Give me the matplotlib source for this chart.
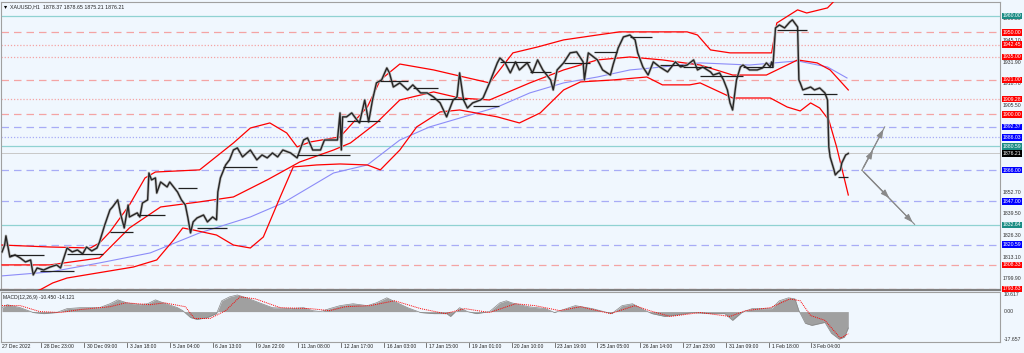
import matplotlib
matplotlib.use("Agg")
import matplotlib.pyplot as plt

plt.rcParams["font.family"] = ["Liberation Sans", "DejaVu Sans"]

# ---- colours
BG = "#F0F7FE"
RED = "#FF0000"
BLUE = "#0000FF"
TEAL = "#1A8C84"
GRID_RED = "#F4A4A4"
GRID_BLUE = "#A8ACF6"
GRID_TEAL = "#90D2D2"
MA_BLUE = "#8C8CF8"

# ---- price path (bar index, price)
price_bar = [0, 2, 3, 6, 10, 14, 18, 22, 24, 27, 32, 37, 42, 45, 50, 54, 58, 62, 65, 69,
             73, 75, 79, 83, 85, 89, 91, 94, 97, 98, 104, 106, 108, 112, 113, 115, 118, 119,
             122, 127, 129, 132, 135, 138, 141, 143, 145, 147, 150, 155, 158, 162, 165, 166,
             168, 172, 175, 178, 181, 185, 191, 196, 200, 204, 208, 212, 216, 222, 227, 232,
             235, 239, 245, 248, 255, 258, 260, 261, 262, 265, 269, 273, 275, 279, 282, 285,
             288, 292, 296, 298, 301, 306, 312, 316, 322, 327, 332, 337, 342, 347, 350, 352,
             355, 358, 362, 368, 370, 375, 381, 383, 387, 391, 395, 398, 404, 408, 412, 416,
             419, 422, 424, 427, 432, 437, 442, 447, 448, 451, 458, 462, 468, 470, 474, 478,
             483, 487, 489, 493, 497, 501, 506, 512, 518, 522, 527, 532, 535, 539, 545, 547,
             552, 555, 558, 560, 562, 563, 565, 568, 570, 575, 581, 585, 588, 591, 592, 593,
             595, 598, 602, 606, 608, 612, 613, 614, 616, 622, 625, 629, 633, 635, 636, 637,
             640, 641, 643, 645, 646, 649, 651]
price_val = [1816.2, 1820.4, 1826.0, 1813.1, 1814.4, 1812.5, 1810.1, 1811.3, 1802.2, 1806.4,
             1805.2, 1807.0, 1808.3, 1806.4, 1818.6, 1816.2, 1817.4, 1815.0, 1819.2, 1816.8,
             1818.6, 1822.3, 1832.6, 1841.8, 1843.6, 1847.9, 1840.0, 1830.8, 1844.8, 1837.5,
             1840.0, 1837.5, 1846.0, 1847.9, 1864.3, 1860.1, 1861.3, 1852.1, 1858.8, 1855.8,
             1858.8, 1855.8, 1852.7, 1847.9, 1844.8, 1836.9, 1827.8, 1834.5, 1836.9, 1838.7,
             1834.5, 1837.5, 1835.7, 1852.7, 1861.3, 1869.2, 1872.3, 1878.3, 1879.6, 1874.1,
             1878.3, 1872.3, 1875.3, 1873.5, 1876.5, 1874.1, 1878.3, 1876.5, 1873.5, 1884.4,
             1885.7, 1878.3, 1878.3, 1884.4, 1884.4, 1884.4, 1900.9, 1878.3, 1898.5, 1898.5,
             1900.9, 1896.6, 1894.8, 1908.8, 1895.4, 1908.8, 1919.2, 1921.0, 1928.3, 1925.3,
             1916.7, 1919.2, 1914.9, 1918.0, 1913.1, 1913.1, 1910.6, 1907.0, 1898.5, 1908.8,
             1910.6, 1925.3, 1908.8, 1903.9, 1907.0, 1908.8, 1910.0, 1919.2, 1931.4, 1934.4,
             1931.4, 1925.3, 1932.0, 1927.1, 1931.4, 1925.3, 1933.2, 1927.1, 1924.0, 1921.0,
             1914.9, 1927.1, 1931.4, 1937.5, 1938.1, 1932.0, 1921.0, 1937.5, 1933.2, 1927.1,
             1924.0, 1930.1, 1940.5, 1947.2, 1948.4, 1945.4, 1937.5, 1928.9, 1924.0, 1932.0,
             1928.9, 1925.9, 1932.0, 1928.9, 1930.1, 1933.2, 1927.1, 1928.9, 1925.9, 1924.0,
             1925.3, 1921.0, 1914.9, 1907.0, 1902.7, 1908.8, 1921.0, 1928.9, 1930.1, 1927.1,
             1927.1, 1928.3, 1931.4, 1928.9, 1932.0, 1928.9, 1952.7, 1954.5, 1952.7, 1956.3,
             1957.6, 1953.3, 1921.0, 1919.2, 1914.9, 1916.7, 1914.9, 1916.1, 1913.1, 1908.8,
             1880.2, 1874.1, 1866.2, 1863.1, 1864.9, 1866.2, 1870.4, 1875.3, 1876.2]

# ---- Bollinger bands and moving average
bb_up_bar = [0, 37, 68, 75, 83, 98, 110, 118, 152, 178, 191, 206, 219, 227, 237, 260, 281,
             291, 306, 332, 352, 375, 393, 412, 432, 458, 475, 527, 535, 545, 560, 592, 596,
             612, 619, 635, 641, 651]
bb_up_val = [1820.4, 1819.2, 1818.6, 1821.7, 1828.4, 1844.8, 1861.3, 1864.9, 1866.2, 1882.6,
             1891.7, 1894.8, 1888.7, 1880.2, 1883.2, 1886.3, 1904.5, 1921.0, 1930.7, 1927.1,
             1923.4, 1919.2, 1937.5, 1941.1, 1945.4, 1948.4, 1950.3, 1950.3, 1948.4, 1939.3,
             1937.5, 1937.5, 1955.7, 1963.7, 1961.8, 1964.9, 1969.8, 1978.9]
bb_mid_bar = [0, 37, 75, 98, 122, 152, 178, 204, 229, 255, 268, 288, 306, 332, 352, 375, 406,
              432, 458, 483, 508, 537, 562, 588, 612, 627, 637, 651]
bb_mid_val = [1808.3, 1808.3, 1812.5, 1830.8, 1843.6, 1846.7, 1849.7, 1860.1, 1871.0, 1878.3,
              1882.6, 1894.8, 1908.8, 1913.7, 1910.0, 1908.8, 1919.2, 1927.1, 1933.2, 1935.0,
              1933.2, 1930.1, 1924.0, 1924.0, 1933.2, 1931.4, 1927.1, 1914.9]
bb_low_bar = [0, 29, 39, 50, 101, 119, 132, 139, 147, 165, 178, 191, 201, 214, 224, 242, 260,
              281, 291, 306, 319, 337, 352, 381, 398, 414, 432, 445, 470, 496, 508, 529, 537,
              562, 591, 604, 614, 622, 629, 636, 642, 651]
bb_low_val = [1786.9, 1793.0, 1797.3, 1800.3, 1807.0, 1811.3, 1823.5, 1830.8, 1829.6, 1826.5,
              1820.4, 1818.6, 1825.3, 1849.7, 1868.0, 1869.2, 1869.8, 1869.2, 1866.2, 1878.3,
              1892.4, 1901.5, 1902.7, 1898.5, 1894.8, 1900.9, 1914.9, 1919.8, 1921.0, 1922.8,
              1918.0, 1918.0, 1919.2, 1910.0, 1910.0, 1904.5, 1902.1, 1907.0, 1903.9, 1896.6,
              1880.2, 1850.9]
ma_bar = [0, 37, 75, 114, 152, 191, 216, 255, 281, 306, 329, 381, 406, 432, 458, 483, 508,
          537, 575, 612, 635, 650]
ma_val = [1801.6, 1804.0, 1809.5, 1815.6, 1827.8, 1837.5, 1846.0, 1864.3, 1869.2, 1884.4,
          1892.4, 1904.5, 1913.1, 1919.2, 1922.8, 1927.1, 1928.9, 1931.4, 1930.1, 1932.6,
          1928.9, 1922.2]

# ---- short black horizontal segments (start bar, end bar, price)
seg_start = [6, 29, 50, 83, 104, 135, 150, 170, 227, 265, 291, 316, 329, 362, 383, 406, 432,
             455, 483, 506, 524, 537, 570, 596, 616, 643]
seg_end = [32, 55, 78, 101, 125, 150, 173, 196, 268, 291, 312, 335, 358, 382, 406, 422, 452,
           473, 500, 524, 545, 570, 593, 619, 642, 651]
seg_price = [1814.4, 1804.6, 1815.0, 1828.4, 1838.7, 1855.2, 1830.8, 1868.0, 1875.3, 1896.0,
             1920.4, 1916.1, 1909.4, 1905.2, 1932.0, 1925.9, 1931.4, 1938.1, 1947.2, 1930.1,
             1928.9, 1923.4, 1928.9, 1951.5, 1912.5, 1861.9]

# ---- horizontal levels
levels = [1960.00, 1950.00, 1942.45, 1935.00, 1921.00, 1909.28, 1900.00, 1892.37, 1886.03,
          1880.59, 1866.00, 1847.00, 1832.64, 1820.59, 1808.33, 1793.63]
level_kind = ["teal", "red-", "red:", "red:", "red-", "red:", "red-", "blue-", "blue:",
              "teal", "blue-", "blue-", "teal", "blue-", "red-", "red-"]
last_price = 1876.21
scale_ticks = [1958.30, 1945.10, 1931.90, 1918.70, 1905.50, 1892.30, 1879.10, 1865.90,
               1852.70, 1839.50, 1826.30, 1813.10, 1799.90]

# ---- forecast arrows (bar, price)
arrow_from = [(661.5, 1866.0), (661.5, 1866.0)]
arrow_mid = [(671, 1879.6), (684, 1847.9)]
arrow_to = [(679, 1892.4), (702, 1833.0)]

# ---- MACD
hist_bar = [0, 4, 14, 24, 32, 42, 50, 60, 75, 83, 89, 96, 106, 112, 118, 124, 135, 139, 145,
            150, 158, 165, 169, 175, 181, 188, 198, 208, 222, 232, 239, 245, 252, 260, 270,
            281, 288, 296, 304, 312, 322, 332, 342, 345, 352, 358, 365, 375, 383, 388, 392,
            405, 418, 425, 441, 454, 469, 477, 485, 495, 500, 510, 521, 531, 546, 556, 562,
            569, 577, 592, 598, 605, 610, 613, 618, 623, 633, 638, 644, 648, 651]
hist_val = [2.5, 4.4, 2.5, -0.6, -1.3, -0.6, 1.9, 2.5, 2.5, 5.0, 7.5, 5.6, 4.4, 5.0, 7.5, 5.6,
            2.5, 0.6, -3.8, -5.0, -3.8, -1.3, 6.9, 9.4, 10.6, 8.8, 5.6, 2.5, 1.9, 2.5, 0.6, 0.0,
            1.9, 3.8, 5.0, 3.8, 5.6, 8.8, 5.6, 2.5, -0.6, -1.3, -1.3, -3.1, 2.5, 0.0, -1.3, 0.0,
            5.6, 6.9, 5.6, 3.1, 1.9, -0.6, 3.8, 1.9, -1.3, 3.8, 5.0, 0.6, -1.3, -3.1, -1.9,
            -0.6, -1.3, -1.3, -5.6, -0.6, 1.9, 1.9, 6.9, 8.8, 8.1, 0.6, -7.5, -8.8, -6.9,
            -13.8, -17.6, -16.3, -10.45]
sig_bar = [0, 14, 29, 45, 60, 83, 95, 114, 125, 141, 148, 160, 172, 183, 195, 214, 237, 252,
           264, 283, 302, 322, 341, 356, 375, 395, 410, 429, 445, 468, 487, 498, 514, 537,
           560, 572, 591, 606, 614, 622, 633, 645, 651]
sig_val = [3.8, 3.8, 0.0, -0.6, 1.3, 3.1, 5.6, 4.4, 5.6, 3.1, -4.4, -4.4, 0.6, 9.4, 8.1, 2.5,
           1.9, 0.6, 3.1, 3.8, 6.9, 1.9, -1.3, 1.9, -0.6, 5.0, 3.8, 0.6, 3.1, -1.3, 3.8, 0.6,
           -3.1, -0.6, -3.1, 0.6, 2.5, 8.1, 6.9, -2.5, -5.6, -17.0, -14.121]
macd_marks = [10.617, 0.00, -17.657]
macd_text = ["10.617", "0.00", "-17.657"]

# ---- time axis
xtick_bar = [0, 30, 63, 96, 129, 162, 195, 228, 261, 294, 326, 359, 392, 425, 458, 491, 524,
             557, 590, 622]
xtick_text = ["27 Dec 2022", "28 Dec 23:00", "30 Dec 09:00", "3 Jan 18:00", "5 Jan 04:00",
              "6 Jan 13:00", "9 Jan 22:00", "11 Jan 08:00", "12 Jan 17:00", "16 Jan 03:00",
              "17 Jan 15:00", "19 Jan 01:00", "20 Jan 10:00", "23 Jan 19:00", "25 Jan 05:00",
              "26 Jan 14:00", "27 Jan 23:00", "31 Jan 09:00", "1 Feb 18:00", "3 Feb 04:00"]

W, H = 1024, 353
FS = 3.7
fig = plt.figure(figsize=(W / 100, H / 100), dpi=100, facecolor=BG)
ax = fig.add_axes([1 / W, 1 - 290 / H, 999 / W, 288 / H], facecolor=BG)
axm = fig.add_axes([1 / W, 1 - 342 / H, 999 / W, 50 / H], facecolor=BG)

XLIM = (-0.8, 767.7)
for a in (ax, axm):
    a.set_xlim(*XLIM)
    a.set_xticks([])
    a.set_yticks([])
    for s in a.spines.values():
        s.set_color("#A0A0A0")
        s.set_linewidth(0.8)
ax.spines["bottom"].set_color("#808080")
ax.spines["bottom"].set_linewidth(1.6)
ax.set_ylim(1793.0, 1968.5)
axm.set_ylim(-19.4, 12.5)

# levels
styles = {
    "teal": (GRID_TEAL, "-", TEAL),
    "red-": (GRID_RED, (0, (6, 4)), RED),
    "red:": (GRID_RED, (0, (1, 1.5)), RED),
    "blue-": (GRID_BLUE, (0, (6, 4)), BLUE),
    "blue:": (GRID_BLUE, (0, (1, 1.5)), BLUE),
}
for lv, k in zip(levels, level_kind):
    c, ls, _ = styles[k]
    ax.axhline(lv, color=c, ls=ls, lw=0.9, zorder=1)
ax.axhline(last_price, color="#C8C8C8", lw=0.7, zorder=1)

# indicators
ax.plot(ma_bar, ma_val, color=MA_BLUE, lw=0.8, zorder=2)
ax.plot(bb_up_bar, bb_up_val, color=RED, lw=0.9, zorder=3)
ax.plot(bb_mid_bar, bb_mid_val, color=RED, lw=0.9, zorder=3)
ax.plot(bb_low_bar, bb_low_val, color=RED, lw=0.9, zorder=3)

# price
ax.plot(price_bar, price_val, color="#BEBEBE", lw=2.0, zorder=4)
ax.plot(price_bar, price_val, color="#252525", lw=1.0, zorder=5)
ax.hlines(seg_price, seg_start, seg_end, color="#202020", lw=0.9, zorder=5)

# arrows
for p0, pm, p1 in zip(arrow_from, arrow_mid, arrow_to):
    ax.plot([p0[0], p1[0]], [p0[1], p1[1]], color="#8A8A8A", lw=0.8, zorder=4)
    for tip in (pm, p1):
        ax.annotate("", xy=tip, xytext=p0,
                    arrowprops=dict(arrowstyle="-|>,head_length=0.5,head_width=0.18",
                                    color="#8A8A8A", lw=0.8), zorder=4)

# right price scale
ytr = ax.get_yaxis_transform()
for t in scale_ticks:
    ax.text(1.003, t, f"{t:.2f}", transform=ytr, fontsize=FS, color="#303030",
            va="center", ha="left", zorder=6)
for lv, k in zip(levels, level_kind):
    ax.text(1.003, lv, f"{lv:.2f}", transform=ytr, fontsize=FS, color="white",
            va="center", ha="left", zorder=7,
            bbox=dict(boxstyle="square,pad=0.15", fc=styles[k][2], ec="none"))
ax.text(1.003, last_price, f"{last_price:.2f}", transform=ytr, fontsize=FS, color="white",
        va="center", ha="left", zorder=7,
        bbox=dict(boxstyle="square,pad=0.15", fc="black", ec="none"))

# title
ax.text(0.003, 0.993, "\u25BE", transform=ax.transAxes, fontsize=4.5, va="top", ha="left",
        family="DejaVu Sans")
ax.text(0.009, 0.993, "XAUUSD,H1  1878.37 1878.65 1875.21 1876.21", transform=ax.transAxes,
        fontsize=3.8, va="top", ha="left", color="#202020")

# MACD panel
axm.fill_between(hist_bar, 0, hist_val, color="#A0A0A0", lw=0, zorder=2)
axm.plot(hist_bar, hist_val, color="#888888", lw=0.5, zorder=2)
axm.plot(sig_bar, sig_val, color=RED, lw=0.7, ls=(0, (1, 1)), zorder=3)
axm.text(0.002, 0.95, "MACD(12,26,9) -10.450 -14.121", transform=axm.transAxes,
         fontsize=3.6, va="top", ha="left", color="#202020")
mtr = axm.get_yaxis_transform()
for m, s in zip(macd_marks, macd_text):
    axm.text(1.004, m, s, transform=mtr, fontsize=FS, va="center", ha="left", color="#303030")

# time axis
xtr = axm.get_xaxis_transform()
for b, s in zip(xtick_bar, xtick_text):
    axm.text(b + (0 if b == 0 else 2.2), -0.05, s, transform=xtr,
             fontsize=3.6, va="top", ha="left", color="#202020")
    if b:
        axm.plot([b, b], [-0.01, -0.09], transform=xtr, color="#606060", lw=0.6,
                 clip_on=False)

fig.savefig("out.png", dpi=100, facecolor=BG)
